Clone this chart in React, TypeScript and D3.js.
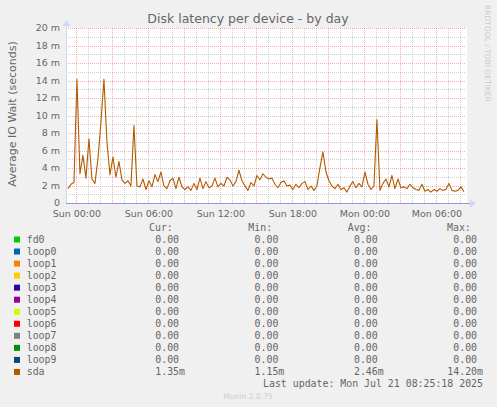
import React from 'react';
import * as d3 from 'd3';

// sda average IO wait, in milliseconds, one reading every 15 minutes from Sat 23:15
const sdaWait = [
  1.7, 2.2, 2.4, 14.2, 3.4, 5.5, 2.9, 7.4, 2.8, 2.3, 5.1, 9.3, 14.2, 7.0, 3.3, 5.3, 3.0, 4.8, 2.7, 2.3,
  2.6, 2.0, 8.9, 2.0, 1.9, 2.8, 1.6, 2.6, 1.9, 3.3, 2.5, 3.6, 2.0, 1.7, 2.6, 2.9, 1.7, 3.0, 1.9, 1.6,
  1.9, 1.5, 2.3, 1.6, 2.9, 1.7, 2.5, 1.8, 2.0, 2.9, 1.9, 2.3, 2.0, 3.0, 2.7, 2.0, 2.5, 3.8, 2.6, 2.0,
  1.5, 2.4, 2.0, 3.2, 2.7, 3.4, 3.0, 2.8, 2.9, 2.2, 1.8, 2.4, 2.6, 2.0, 2.1, 1.6, 2.2, 1.8, 2.3, 2.5,
  1.6, 2.0, 1.5, 2.0, 4.1, 5.9, 3.6, 2.6, 2.0, 1.7, 2.2, 1.6, 1.8, 1.3, 2.0, 2.5, 1.8, 2.3, 1.9, 3.6,
  2.2, 1.6, 2.0, 9.6, 1.5, 2.3, 2.8, 1.9, 3.2, 1.7, 2.8, 1.8, 1.9, 1.7, 2.2, 1.8, 1.6, 1.5, 2.2, 1.4,
  1.6, 1.3, 1.6, 1.4, 1.7, 1.5, 1.6, 2.3, 1.5, 1.4, 1.5, 1.9, 1.35,
];

const devices = ['fd0', 'loop0', 'loop1', 'loop2', 'loop3', 'loop4', 'loop5', 'loop6', 'loop7', 'loop8', 'loop9', 'sda'];
const deviceColors = ['#00CC00', '#0066B3', '#FF8000', '#FFCC00', '#330099', '#990099', '#CCFF00', '#FF0000', '#808080', '#008F00', '#00487D', '#B35A00'];
const curValues = ['0.00', '0.00', '0.00', '0.00', '0.00', '0.00', '0.00', '0.00', '0.00', '0.00', '0.00', '1.35m'];
const minValues = ['0.00', '0.00', '0.00', '0.00', '0.00', '0.00', '0.00', '0.00', '0.00', '0.00', '0.00', '1.15m'];
const avgValues = ['0.00', '0.00', '0.00', '0.00', '0.00', '0.00', '0.00', '0.00', '0.00', '0.00', '0.00', '2.46m'];
const maxValues = ['0.00', '0.00', '0.00', '0.00', '0.00', '0.00', '0.00', '0.00', '0.00', '0.00', '0.00', '14.20m'];
const statHeaders = ['Cur:', 'Min:', 'Avg:', 'Max:'];

// Mon 21 Jul 2025 is the last update, the window reaches back 33h20m
const rangeStart = new Date(Date.UTC(2025, 6, 19, 23, 5, 18));
const rangeEnd = new Date(Date.UTC(2025, 6, 21, 8, 25, 18));
const firstSample = new Date(Date.UTC(2025, 6, 19, 23, 15, 0));
const stepMinutes = 15;

const W = 497;
const H = 407;
const plot = { left: 66, right: 466, top: 28, bottom: 203 };

const sans = '"DejaVu Sans", sans-serif';
const mono = '"DejaVu Sans Mono", monospace';
const fontColor = '#666666';

const App: React.FC = () => {
  const x = d3.scaleUtc().domain([rangeStart, rangeEnd]).range([plot.left, plot.right]);
  const y = d3.scaleLinear().domain([0, 20]).range([plot.bottom + 0.5, plot.top + 0.5]);

  const points = sdaWait.map((v, i) => ({
    t: d3.utcMinute.offset(firstSample, i * stepMinutes),
    v,
  }));
  const line = d3.line<{ t: Date; v: number }>()
    .x(d => x(d.t))
    .y(d => y(d.v));
  const zeroLine = line(points.map(p => ({ t: p.t, v: 0 })));

  const minorY = d3.range(1, 20, 2);
  const majorY = d3.range(0, 21, 2);
  const hours = d3.utcHour.range(rangeStart, rangeEnd);
  const minorX = hours.filter(h => h.getUTCHours() % 3 !== 0);
  const majorX = hours.filter(h => h.getUTCHours() % 3 === 0);
  const labelX = hours.filter(h => h.getUTCHours() % 6 === 0);
  const fmt = d3.utcFormat('%a %H:%M');

  const colRight = [185, 284.3, 383.7, 483];
  const statCols = [curValues, minValues, avgValues, maxValues];
  const charW = 9.9 * 0.602;
  const rowBase = (i: number) => 243 + i * 12.04;

  const px = (v: number) => Math.floor(v) + 0.5;
  const minorStroke = 'rgba(150,150,150,0.45)';
  const majorStroke = 'rgba(230,80,80,0.45)';

  return (
    <svg width={W} height={H} style={{ position: 'absolute', left: 0, top: 0 }}>
      <rect width={W} height={H} fill="#F0F0F0" />
      <rect x={plot.left} y={plot.top} width={plot.right - plot.left + 1} height={plot.bottom - plot.top} fill="#FFFFFF" />

      {/* grid */}
      <g shapeRendering="crispEdges" strokeDasharray="1,1">
        {minorY.map(v => (
          <line key={'my' + v} x1={plot.left} x2={plot.right} y1={px(y(v))} y2={px(y(v))} stroke={minorStroke} />
        ))}
        {minorX.map(h => (
          <line key={'mx' + h.getTime()} x1={px(x(h))} x2={px(x(h))} y1={plot.top} y2={plot.bottom} stroke={minorStroke} />
        ))}
        {majorY.map(v => (
          <line key={'My' + v} x1={plot.left} x2={plot.right} y1={px(y(v))} y2={px(y(v))} stroke={majorStroke} />
        ))}
        {majorX.map(h => (
          <line key={'Mx' + h.getTime()} x1={px(x(h))} x2={px(x(h))} y1={plot.top} y2={plot.bottom} stroke={majorStroke} />
        ))}
      </g>

      {/* all-zero series, hidden under the axis */}
      {devices.slice(0, -1).map((d, i) => (
        <path key={d} d={zeroLine || ''} fill="none" stroke={deviceColors[i]} strokeWidth={1} />
      ))}

      {/* axes */}
      <g shapeRendering="crispEdges">
        <line x1={plot.left} x2={470} y1={px(y(0))} y2={px(y(0))} stroke="#8E9DD6" />
        <line x1={px(plot.left)} x2={px(plot.left)} y1={plot.bottom} y2={24} stroke="#CFD6F8" />
      </g>
      <path d={`M470,${plot.bottom - 3.5}L476,${plot.bottom + 0.5}L470,${plot.bottom + 4.5}Z`} fill="#CFD6F8" />
      <path d={`M${plot.left - 3.5},26L${plot.left + 0.5},20L${plot.left + 4.5},26Z`} fill="#CFD6F8" />

      <path d={line(points) || ''} fill="none" stroke={deviceColors[11]} strokeWidth={1.1} strokeLinejoin="round" />

      {/* y ticks */}
      {majorY.map(v => (
        <text key={'yl' + v} x={60} y={y(v) + 2.6} textAnchor="end" fontFamily={sans} fontSize={9.5} fill={fontColor}>
          {v === 0 ? '0' : `${v} m`}
        </text>
      ))}
      {/* x ticks */}
      {labelX.map(h => (
        <text key={'xl' + h.getTime()} x={x(h)} y={216.6} textAnchor="middle" fontFamily={sans} fontSize={9.5} fill={fontColor}>
          {fmt(h)}
        </text>
      ))}

      <text x={248} y={23} textAnchor="middle" fontFamily={sans} fontSize={12.5} fill={fontColor}>
        Disk latency per device - by day
      </text>
      <text transform="translate(15.5,114) rotate(-90)" textAnchor="middle" fontFamily={sans} fontSize={11} fill={fontColor}>
        Average IO Wait (seconds)
      </text>
      <text transform="translate(485.3,5) rotate(90)" fontFamily={sans} fontSize={7.5} fill="#CCCCCC">
        RRDTOOL / TOBI OETIKER
      </text>

      {/* legend */}
      {statHeaders.map((h, c) => (
        <text key={h} x={colRight[c] - 36} y={231} fontFamily={mono} fontSize={9.9} fill={fontColor}>{h}</text>
      ))}
      {devices.map((d, i) => (
        <g key={'lg' + d}>
          <rect x={14} y={rowBase(i) - 6.5} width={6} height={6} fill={deviceColors[i]} />
          <text x={26.7} y={rowBase(i)} fontFamily={mono} fontSize={9.9} fill={fontColor}>{d}</text>
          {statCols.map((col, c) => (
            <text
              key={c}
              x={col[i].endsWith('m') ? colRight[c] : colRight[c] - charW}
              y={rowBase(i)}
              textAnchor="end"
              fontFamily={mono}
              fontSize={9.9}
              fill={fontColor}
            >
              {col[i]}
            </text>
          ))}
        </g>
      ))}
      <text x={483} y={387} textAnchor="end" fontFamily={mono} fontSize={9.9} fill={fontColor}>
        Last update: Mon Jul 21 08:25:18 2025
      </text>
      <text x={248} y={398.5} textAnchor="middle" fontFamily={sans} fontSize={7.6} fill="#CCCCCC">
        Munin 2.0.75
      </text>
    </svg>
  );
};

export default App;
